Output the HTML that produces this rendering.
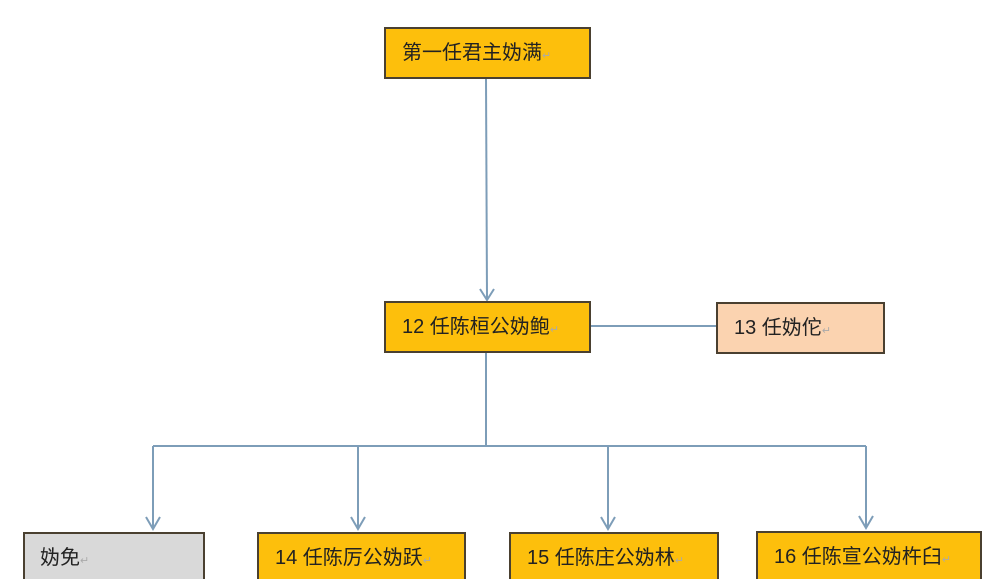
<!DOCTYPE html>
<html><head><meta charset="utf-8"><style>
html,body{margin:0;width:1003px;height:579px;overflow:hidden;}
body{background:#fff;position:relative;font-family:"Liberation Sans","Noto Sans CJK SC",sans-serif;}
.b{position:absolute;box-sizing:border-box;border:2px solid #4a4030;background:#fdbf0c;color:#222;font-size:20px;line-height:20px;padding-top:14px;white-space:nowrap;}
.o{border-bottom:none;}
.r{color:#aaa;font-size:11px;}
svg{position:absolute;left:0;top:0;}
</style></head><body>
<svg width="1003" height="579">
<g stroke="#7d9db8" stroke-width="2" fill="none">
<line x1="486" y1="78" x2="487" y2="299"/>
<polyline points="480,289 487,300 494,289"/>
<line x1="591" y1="326" x2="716" y2="326"/>
<line x1="486" y1="352" x2="486" y2="446"/>
<line x1="153" y1="446" x2="866" y2="446"/>
<line x1="153" y1="446" x2="153" y2="529"/>
<line x1="358" y1="446" x2="358" y2="529"/>
<line x1="608" y1="446" x2="608" y2="529"/>
<line x1="866" y1="446" x2="866" y2="528"/>
<polyline points="146,517 153,529 160,517"/>
<polyline points="351,517 358,529 365,517"/>
<polyline points="601,517 608,529 615,517"/>
<polyline points="859,516 866,528 873,516"/>
</g></svg>
<div class="b" style="left:384px;top:27px;width:207px;height:52px;padding-left:16px;">第一任君主妫满<span class="r">↵</span></div>
<div class="b" style="left:384px;top:301px;width:207px;height:52px;padding-left:16px;">12 任陈桓公妫鲍<span class="r">↵</span></div>
<div class="b" style="left:716px;top:302px;width:169px;height:52px;padding-left:16px;background:#fbd3b0;">13 任妫佗<span class="r">↵</span></div>
<div class="b o" style="left:23px;top:532px;width:182px;height:47px;padding-left:15px;background:#d9d9d9;">妫免<span class="r">↵</span></div>
<div class="b o" style="left:257px;top:532px;width:209px;height:47px;padding-left:16px;">14 任陈厉公妫跃<span class="r">↵</span></div>
<div class="b o" style="left:509px;top:532px;width:210px;height:47px;padding-left:16px;">15 任陈庄公妫林<span class="r">↵</span></div>
<div class="b o" style="left:756px;top:531px;width:226px;height:48px;padding-left:16px;">16 任陈宣公妫杵臼<span class="r">↵</span></div>
</body></html>
